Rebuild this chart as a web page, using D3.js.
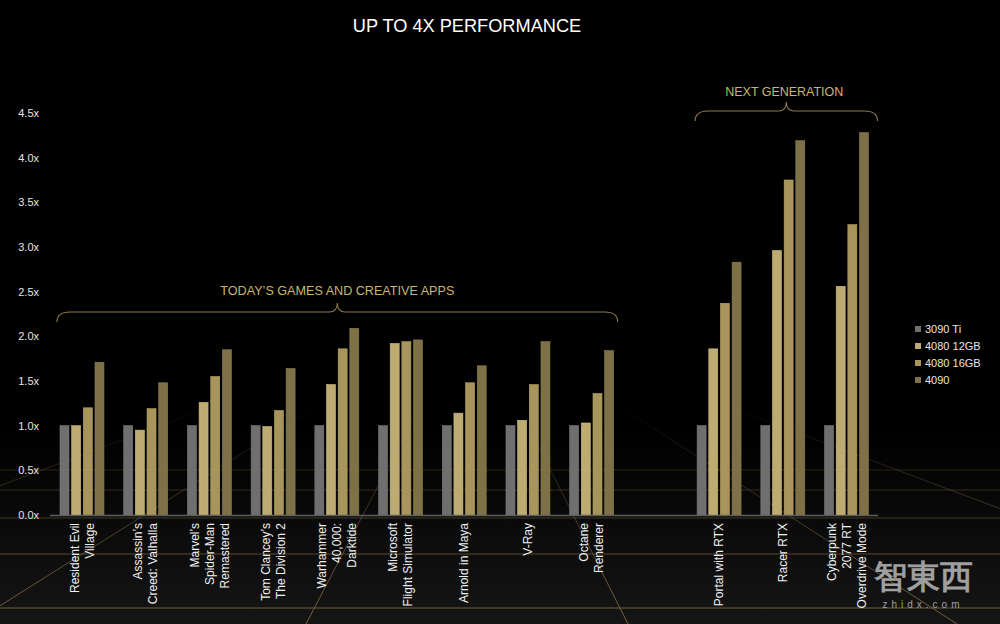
<!DOCTYPE html>
<html>
<head>
<meta charset="utf-8">
<script src="https://cdn.jsdelivr.net/npm/d3@7"></script>
<style>
  body { margin: 0; background: #000; }
  svg { display: block; }
  text { font-family: "Liberation Sans", Arial, sans-serif; }
</style>
</head>
<body>
<svg id="chart"></svg>
<script>
// DATA
const games = [
  'Resident Evil Village', 'Assassin’s Creed: Valhalla', 'Marvel’s Spider-Man Remastered',
  'Tom Clancey’s The Division 2', 'Warhammer 40,000: Darktide', 'Microsoft Flight Simulator',
  'Arnold in Maya', 'V-Ray', 'Octane Renderer', 'gap',
  'Portal with RTX', 'Racer RTX', 'Cyberpunk 2077 RT Overdrive Mode'
];
const labelLines = [
  ['Resident Evil', 'Village'], ['Assassin’s', 'Creed: Valhalla'], ['Marvel’s', 'Spider-Man', 'Remastered'],
  ['Tom Clancey’s', 'The Division 2'], ['Warhammer', '40,000:', 'Darktide'], ['Microsoft', 'Flight Simulator'],
  ['Arnold in Maya'], ['V-Ray'], ['Octane', 'Renderer'], [],
  ['Portal with RTX'], ['Racer RTX'], ['Cyberpunk', '2077 RT', 'Overdrive Mode']
];
const seriesNames = ['3090 Ti', '4080 12GB', '4080 16GB', '4090'];
const rtx3090ti = [1.0, 1.0, 1.0, 1.0, 1.0, 1.0, 1.0, 1.0, 1.0, null, 1.0, 1.0, 1.0];
const rtx4080_12 = [1.0, 0.95, 1.26, 0.99, 1.46, 1.92, 1.14, 1.06, 1.03, null, 1.86, 2.96, 2.56];
const rtx4080_16 = [1.2, 1.19, 1.55, 1.17, 1.86, 1.94, 1.48, 1.46, 1.36, null, 2.37, 3.75, 3.25];
const rtx4090 = [1.71, 1.48, 1.85, 1.64, 2.09, 1.96, 1.67, 1.94, 1.84, null, 2.83, 4.19, 4.28];
const yTicks = [0, 0.5, 1, 1.5, 2, 2.5, 3, 3.5, 4, 4.5];

const W = 1000, H = 624;
const colors = ['#6f6f6f', '#bdab72', '#a7955b', '#7e7147'];
const gold = '#c9b470';

const svg = d3.select('#chart').attr('width', W).attr('height', H);
const defs = svg.append('defs');

//BACKGROUND + FLOOR
const fg = defs.append('linearGradient').attr('id', 'floor').attr('x1', 0).attr('x2', 0).attr('y1', 0).attr('y2', 1);
fg.append('stop').attr('offset', 0).attr('stop-color', '#000');
fg.append('stop').attr('offset', 1).attr('stop-color', '#151515');
svg.append('rect').attr('width', W).attr('height', H).attr('fill', '#000');
svg.append('rect').attr('y', 430).attr('width', W).attr('height', H - 430).attr('fill', 'url(#floor)');

const lg = defs.append('linearGradient').attr('id', 'fade').attr('gradientUnits', 'userSpaceOnUse')
  .attr('x1', 0).attr('x2', 0).attr('y1', 400).attr('y2', 624);
lg.append('stop').attr('offset', 0).attr('stop-color', '#75623c').attr('stop-opacity', 0);
lg.append('stop').attr('offset', 1).attr('stop-color', '#75623c').attr('stop-opacity', 1);

const floor = svg.append('g');
[470, 490, 518, 554, 608].forEach(y => {
  floor.append('line').attr('x1', 0).attr('x2', W).attr('y1', y).attr('y2', y)
    .attr('stroke', 'url(#fade)').attr('stroke-width', 1.2);
});
[-370, -29, 306, 628, 957, 1308].forEach(bx => {
  floor.append('line').attr('x1', 470).attr('y1', 310).attr('x2', bx).attr('y2', 624)
    .attr('stroke', 'url(#fade)').attr('stroke-width', 1);
});

//SCALES
const y = d3.scaleLinear().domain([0, 4.5]).range([515, 113]);
const x = d3.scaleBand().domain(games).range([60, 868.5]).paddingInner(0.31).paddingOuter(0);
const xs = d3.scaleBand().domain(seriesNames).range([0, x.bandwidth()]).paddingInner(0.23);

//Y AXIS
const yAxis = svg.append('g').attr('transform', 'translate(40,0)')
  .call(d3.axisLeft(y).tickValues(yTicks).tickSize(0).tickPadding(1).tickFormat(d => d3.format('.1f')(d) + 'x'));
yAxis.select('.domain').remove();
yAxis.selectAll('text').attr('fill', '#e6e6e6').attr('font-size', '11px')
  .attr('font-family', '"Liberation Sans", Arial, sans-serif');

//BARS
const allSeries = [rtx3090ti, rtx4080_12, rtx4080_16, rtx4090];
const rows = [];
games.forEach((g, i) => {
  seriesNames.forEach((s, j) => {
    const v = allSeries[j][i];
    if (v != null) rows.push({ g, s, v, j });
  });
});
svg.append('g').selectAll('rect').data(rows).join('rect')
  .attr('x', d => x(d.g) + xs(d.s))
  .attr('y', d => y(d.v))
  .attr('width', xs.bandwidth())
  .attr('height', d => y(0) - y(d.v))
  .attr('fill', d => colors[d.j])
  .attr('stroke', d => d3.color(colors[d.j]).brighter(0.25))
  .attr('stroke-width', 0.6);

//BASELINE
svg.append('line').attr('x1', 50).attr('x2', 878).attr('y1', y(0) + 0.5).attr('y2', y(0) + 0.5)
  .attr('stroke', '#5e5e5e').attr('stroke-width', 1.5);

//X LABELS
const lab = svg.append('g');
games.forEach((g, i) => {
  const lines = labelLines[i];
  const cx = x(g) + x.bandwidth() / 2;
  lines.forEach((t, k) => {
    const off = (k - (lines.length - 1) / 2) * 15;
    lab.append('text')
      .attr('transform', `translate(${cx + off},523) rotate(-90)`)
      .attr('dy', '0.35em')
      .attr('text-anchor', 'end')
      .attr('fill', '#f0f0f0')
      .attr('font-size', '12px')
      .text(t);
  });
});

//BRACES
function brace(x0, x1, xm, yFlat, yEnd, yTip) {
  const r = 13, r2 = 8;
  return `M${x0},${yEnd} Q${x0},${yFlat} ${x0 + r},${yFlat} L${xm - r2},${yFlat} Q${xm},${yFlat} ${xm},${yTip}` +
    ` Q${xm},${yFlat} ${xm + r2},${yFlat} L${x1 - r},${yFlat} Q${x1},${yFlat} ${x1},${yEnd}`;
}
const b1x0 = x(games[0]) - 3, b1x1 = x(games[8]) + x.bandwidth() + 4;
const b2x0 = x(games[10]) - 2, b2x1 = x(games[12]) + x.bandwidth() + 9;
const b1m = (b1x0 + b1x1) / 2, b2m = (b2x0 + b2x1) / 2;
svg.append('path').attr('d', brace(b1x0, b1x1, b1m, 312, 322, 303))
  .attr('fill', 'none').attr('stroke', '#8a7a4c').attr('stroke-width', 1.1);
svg.append('path').attr('d', brace(b2x0, b2x1, b2m, 111, 121, 102))
  .attr('fill', 'none').attr('stroke', '#8a7a4c').attr('stroke-width', 1.1);

svg.append('text').attr('x', b1m).attr('y', 295).attr('text-anchor', 'middle')
  .attr('fill', gold).attr('font-size', '13px').attr('font-family', 'Roboto, sans-serif')
  .attr('textLength', 234).attr('lengthAdjust', 'spacingAndGlyphs')
  .text('TODAY’S GAMES AND CREATIVE APPS');
svg.append('text').attr('x', b2m - 2).attr('y', 96).attr('text-anchor', 'middle')
  .attr('fill', gold).attr('font-size', '13.5px').attr('font-family', 'Roboto, sans-serif')
  .attr('textLength', 118).attr('lengthAdjust', 'spacingAndGlyphs')
  .text('NEXT GENERATION');

//TITLE
svg.append('text').attr('x', 467).attr('y', 32).attr('text-anchor', 'middle')
  .attr('fill', '#fff').attr('font-size', '18.2px')
  .text('UP TO 4X PERFORMANCE');

//LEGEND
const legend = svg.append('g').attr('transform', 'translate(915,329)');
seriesNames.forEach((s, i) => {
  const row = legend.append('g').attr('transform', `translate(0,${i * 17})`);
  row.append('rect').attr('x', 0).attr('y', -3).attr('width', 6).attr('height', 6).attr('fill', colors[i]);
  row.append('text').attr('x', 10).attr('dy', '0.36em').attr('fill', '#e6e6e6')
    .attr('font-size', '11px').text(s);
});

//WATERMARK
svg.append('text').attr('x', 923).attr('y', 588).attr('text-anchor', 'middle')
  .attr('fill', '#b8b8b8').attr('opacity', 0.85).attr('font-size', '33px').attr('font-weight', 'bold')
  .attr('font-family', '"Noto Sans CJK SC", sans-serif').text('智東西');
svg.append('text').attr('x', 923).attr('y', 608).attr('text-anchor', 'middle')
  .attr('fill', '#b8b8b8').attr('opacity', 0.85).attr('font-size', '10px').attr('letter-spacing', '4px')
  .text('zhidx.com');
</script>
</body>
</html>
